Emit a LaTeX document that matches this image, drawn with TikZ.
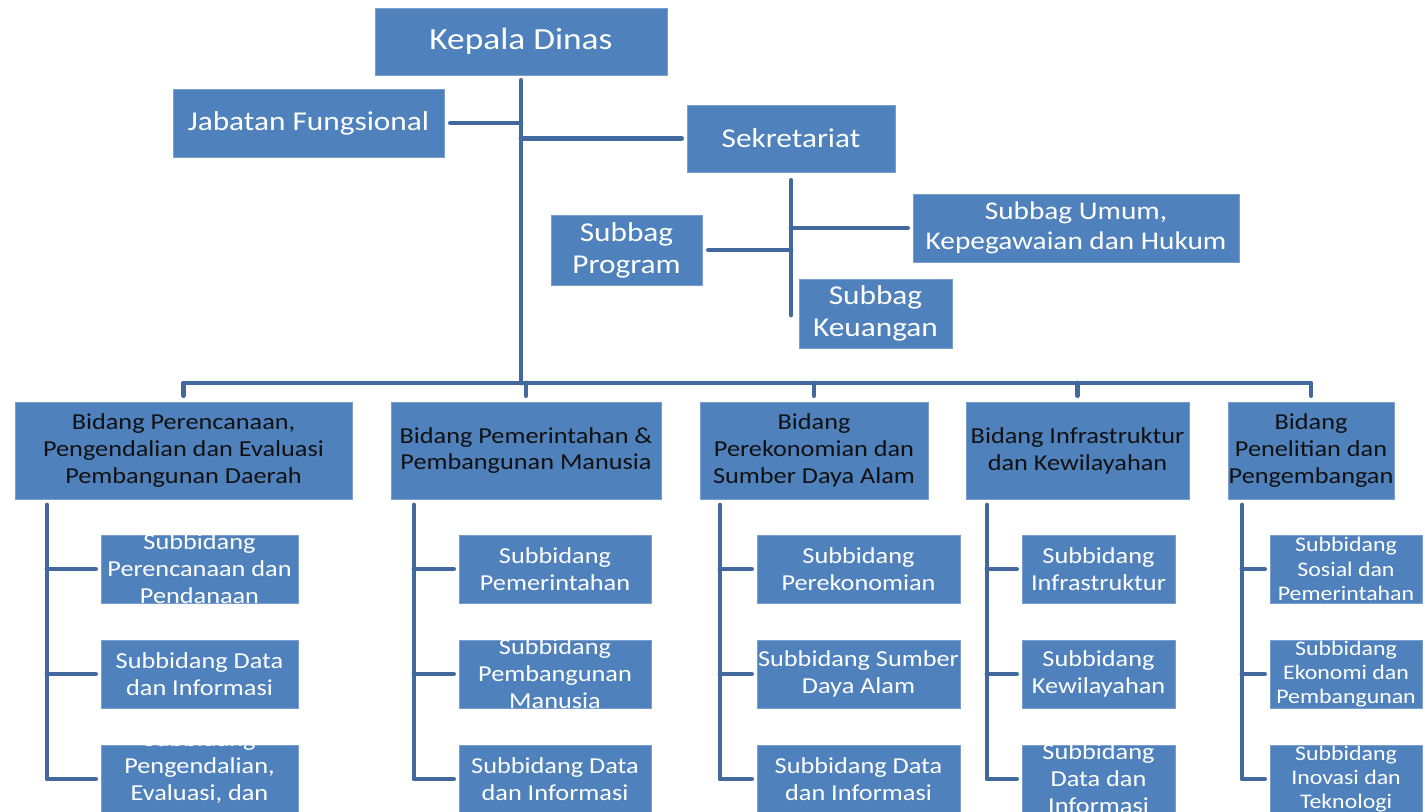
\documentclass[tikz,border=0pt]{standalone}
\usepackage{fontspec}
\setmainfont{Carlito}[FakeStretch=1.15]
\usetikzlibrary{calc}
\definecolor{boxblue}{HTML}{4F81BD}
\definecolor{boxedge}{HTML}{7A9FCF}
\definecolor{linkblue}{HTML}{41699E}
\definecolor{darktxt}{HTML}{111111}
\newlength{\pxu}
\setlength{\pxu}{0.02cm}
\newcommand{\fixtxt}[3]{\parbox[c][#2\pxu][c]{#1\pxu}{\centering #3}}

\begin{document}
\begin{tikzpicture}[x=0.02cm, y=-0.02cm,
  unit/.style={rectangle, fill=boxblue, draw=boxedge, line width=0.5pt, inner sep=0pt, text=white},
  head/.style={unit, font=\fontsize{15.5}{18.2}\selectfont},
  bidang/.style={unit, text=darktxt, font=\fontsize{13}{15.3}\selectfont},
  subunit/.style={unit, font=\fontsize{13}{15.3}\selectfont},
  linkline/.style={draw=linkblue, line width=2.8pt, line cap=round, line join=round}]
  \useasboundingbox (0,0) rectangle (1425,811);
  \clip (0,0) rectangle (1425,811);

  % Top: head and secretariat
  \node[head, font=\fontsize{17.5}{20.5}\selectfont] (kepala) at (521,41.5) {\fixtxt{292}{67}{Kepala Dinas}};
  \node[head] (jabatan) at (308.5,123) {\fixtxt{271}{68}{Jabatan Fungsional}};
  \node[head] (sekre) at (791,138.5) {\fixtxt{208}{67}{Sekretariat}};
  \node[head] (program) at (626.5,250) {\fixtxt{151}{70}{Subbag\\Program}};
  \node[head, font=\fontsize{14.5}{17}\selectfont] (umum) at (1076,228) {\fixtxt{326}{68}{Subbag Umum,\\Kepegawaian dan Hukum}};
  \node[head] (keuangan) at (875.5,313.5) {\fixtxt{153}{69}{Subbag\\Keuangan}};

  % Bidang row
  \node[bidang] (b1) at (183.5,450.5) {\fixtxt{337}{97}{Bidang Perencanaan,\\Pengendalian dan Evaluasi\\Pembangunan Daerah}};
  \node[bidang] (b2) at (526,450.5) {\fixtxt{270}{97}{Bidang Pemerintahan \&\\Pembangunan Manusia}};
  \node[bidang] (b3) at (814,450.5) {\fixtxt{228}{97}{Bidang\\Perekonomian dan\\Sumber Daya Alam}};
  \node[bidang] (b4) at (1077.5,450.5) {\fixtxt{223}{97}{Bidang Infrastruktur\\dan Kewilayahan}};
  \node[bidang] (b5) at (1311,450.5) {\fixtxt{166}{97}{Bidang\\Penelitian dan\\\makebox[\linewidth]{Pengembangan}}};

  % Subbidang boxes
  \node[subunit] (s11) at (199.5,569) {\fixtxt{197}{68}{Subbidang\\Perencanaan dan\\Pendanaan}};
  \node[subunit] (s12) at (199.5,674) {\fixtxt{197}{68}{Subbidang Data\\dan Informasi}};
  \node[subunit] (s13) at (199.5,779) {\fixtxt{197}{68}{Subbidang\\Pengendalian,\\Evaluasi, dan\\\mbox{}}};
  \node[subunit] (s21) at (555,569) {\fixtxt{192}{68}{Subbidang\\Pemerintahan}};
  \node[subunit] (s22) at (555,674) {\fixtxt{192}{68}{Subbidang\\Pembangunan\\Manusia}};
  \node[subunit] (s23) at (555,779) {\fixtxt{192}{68}{Subbidang Data\\dan Informasi}};
  \node[subunit] (s31) at (858.5,569) {\fixtxt{203}{68}{Subbidang\\Perekonomian}};
  \node[subunit] (s32) at (858.5,674) {\fixtxt{203}{68}{\makebox[\linewidth]{Subbidang Sumber}\\Daya Alam}};
  \node[subunit] (s33) at (858.5,779) {\fixtxt{203}{68}{Subbidang Data\\dan Informasi}};
  \node[subunit] (s41) at (1098.5,569) {\fixtxt{153}{68}{Subbidang\\Infrastruktur}};
  \node[subunit] (s42) at (1098.5,674) {\fixtxt{153}{68}{Subbidang\\Kewilayahan}};
  \node[subunit] (s43) at (1098.5,779) {\fixtxt{153}{68}{Subbidang\\Data dan\\Informasi}};
  \node[subunit, font=\fontsize{11.8}{13.9}\selectfont] (s51) at (1346,569) {\fixtxt{152}{68}{Subbidang\\Sosial dan\\Pemerintahan}};
  \node[subunit, font=\fontsize{11.8}{13.9}\selectfont] (s52) at (1346,674) {\fixtxt{152}{68}{Subbidang\\Ekonomi dan\\Pembangunan}};
  \node[subunit, font=\fontsize{11.8}{13.9}\selectfont] (s53) at (1346,779) {\fixtxt{152}{68}{Subbidang\\Inovasi dan\\Teknologi}};

  % Trunk and upper links
  \coordinate (bus) at (521,383);
  \draw[linkline] ($(kepala.south)+(0,5)$) -- (bus);
  \draw[linkline] ($(jabatan.east)+(6,0)$) -- (jabatan.east -| bus);
  \draw[linkline] (sekre.west -| bus) -- ($(sekre.west)+(-5,0)$);
  \coordinate (sekend) at (791,315);
  \draw[linkline] ($(sekre.south)+(0,8)$) -- (sekend);
  \draw[linkline] ($(program.east)+(6,0)$) -- (program.east -| sekend);
  \draw[linkline] (umum.west -| sekend) -- ($(umum.west)+(-5,0)$);

  % Bus to the bidang row
  \draw[linkline] ($(b1.north)+(0,-6)$) |- (bus) -| ($(b5.north)+(0,-6)$);
  \draw[linkline] ($(b2.north)+(0,-6)$) -- (b2.north |- bus);
  \draw[linkline] ($(b3.north)+(0,-6)$) -- (b3.north |- bus);
  \draw[linkline] ($(b4.north)+(0,-6)$) -- (b4.north |- bus);

  % Column 1
  \coordinate (v1) at (47,505);
  \draw[linkline] (v1) |- ($(s13.west)+(-5,0)$);
  \draw[linkline] (v1 |- s11.west) -- ($(s11.west)+(-5,0)$);
  \draw[linkline] (v1 |- s12.west) -- ($(s12.west)+(-5,0)$);
  % Column 2
  \coordinate (v2) at (414,505);
  \draw[linkline] (v2) |- ($(s23.west)+(-5,0)$);
  \draw[linkline] (v2 |- s21.west) -- ($(s21.west)+(-5,0)$);
  \draw[linkline] (v2 |- s22.west) -- ($(s22.west)+(-5,0)$);
  % Column 3
  \coordinate (v3) at (720,505);
  \draw[linkline] (v3) |- ($(s33.west)+(-5,0)$);
  \draw[linkline] (v3 |- s31.west) -- ($(s31.west)+(-5,0)$);
  \draw[linkline] (v3 |- s32.west) -- ($(s32.west)+(-5,0)$);
  % Column 4
  \coordinate (v4) at (987,505);
  \draw[linkline] (v4) |- ($(s43.west)+(-5,0)$);
  \draw[linkline] (v4 |- s41.west) -- ($(s41.west)+(-5,0)$);
  \draw[linkline] (v4 |- s42.west) -- ($(s42.west)+(-5,0)$);
  % Column 5
  \coordinate (v5) at (1242,505);
  \draw[linkline] (v5) |- ($(s53.west)+(-5,0)$);
  \draw[linkline] (v5 |- s51.west) -- ($(s51.west)+(-5,0)$);
  \draw[linkline] (v5 |- s52.west) -- ($(s52.west)+(-5,0)$);
\end{tikzpicture}
\end{document}
